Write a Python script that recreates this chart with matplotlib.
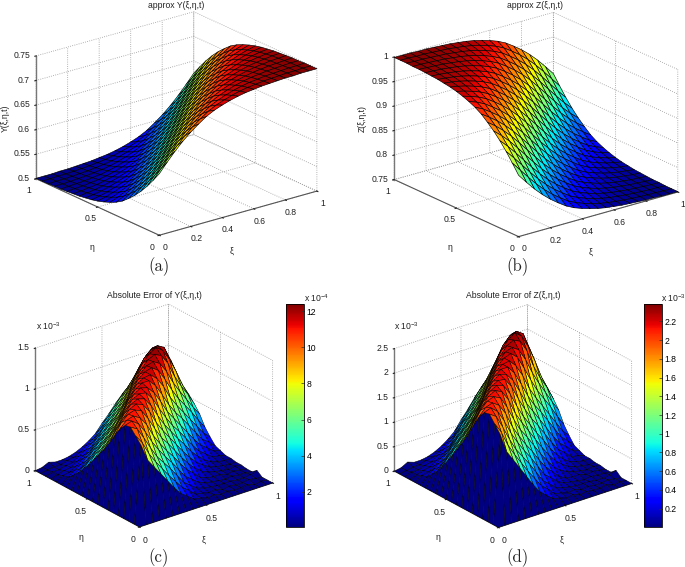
import numpy as np
import matplotlib
matplotlib.use("Agg")
import matplotlib.pyplot as plt
from matplotlib.colors import Normalize
from matplotlib.cm import ScalarMappable

plt.rcParams["font.family"] = ["Liberation Sans", "DejaVu Sans"]
plt.rcParams["font.size"] = 6.2
plt.rcParams["text.color"] = "#222222"
plt.rcParams["mathtext.default"] = "regular"

W, H = 685, 567

xi = np.arange(21) / 20
eta = np.arange(21) / 20

# both approx surfaces only depend on xi-eta, values from -1 to 1
Y_BY_OFFSET = [0.501, 0.501, 0.501, 0.502, 0.502, 0.503, 0.504, 0.505, 0.507, 0.509,
               0.512, 0.516, 0.521, 0.527, 0.535, 0.546, 0.558, 0.572, 0.588, 0.606,
               0.625, 0.644, 0.662, 0.678, 0.692, 0.704, 0.715, 0.723, 0.729, 0.734,
               0.738, 0.741, 0.743, 0.745, 0.746, 0.747, 0.748, 0.748, 0.749, 0.749, 0.749]
Z_BY_OFFSET = [0.999, 0.999, 0.999, 0.998, 0.998, 0.997, 0.996, 0.995, 0.993, 0.991,
               0.988, 0.984, 0.979, 0.973, 0.965, 0.954, 0.942, 0.928, 0.912, 0.894,
               0.875, 0.856, 0.838, 0.822, 0.808, 0.796, 0.785, 0.777, 0.771, 0.766,
               0.762, 0.759, 0.757, 0.755, 0.754, 0.753, 0.752, 0.752, 0.751, 0.751, 0.751]

# error height in percent of the peak, rows are eta, columns are xi
ERR_PERCENT = [
    [0, 0, 0, 0, 0, 0, 0, 0, 0, 0, 0, 0, 0, 0, 0, 0, 0, 0, 0, 0, 0],
    [0, 76, 59, 50, 41, 32, 23, 15, 10, 5, 4, 2, 3, 1, 2, 1, 1, 2, 0, 1, 0],
    [0, 82, 73, 60, 50, 41, 32, 24, 16, 11, 5, 4, 2, 3, 1, 2, 1, 1, 2, 1, 0],
    [0, 88, 84, 73, 61, 50, 42, 34, 25, 16, 11, 6, 4, 3, 2, 2, 2, 1, 1, 2, 4],
    [0, 87, 89, 84, 74, 62, 52, 43, 35, 26, 17, 12, 7, 4, 3, 2, 1, 2, 1, 1, 0],
    [0, 81, 87, 89, 85, 76, 63, 53, 44, 36, 27, 19, 13, 7, 4, 3, 3, 1, 2, 1, 0],
    [0, 72, 82, 88, 90, 87, 77, 65, 54, 46, 37, 28, 20, 13, 8, 5, 3, 2, 1, 2, 1],
    [0, 62, 72, 81, 88, 91, 88, 79, 66, 56, 47, 38, 29, 21, 14, 9, 5, 3, 2, 1, 1],
    [0, 53, 61, 71, 81, 88, 91, 89, 80, 68, 57, 48, 39, 31, 22, 15, 9, 5, 3, 2, 2],
    [0, 45, 52, 61, 71, 80, 88, 91, 90, 82, 70, 59, 49, 41, 32, 23, 15, 10, 5, 4, 2],
    [0, 37, 44, 52, 60, 70, 80, 88, 92, 90, 83, 72, 60, 51, 42, 33, 24, 16, 11, 6, 4],
    [0, 29, 37, 44, 51, 59, 69, 80, 88, 92, 92, 85, 74, 62, 52, 44, 35, 26, 17, 12, 6],
    [0, 22, 29, 36, 43, 51, 59, 68, 79, 88, 92, 93, 87, 77, 64, 54, 45, 36, 27, 18, 12],
    [0, 15, 21, 28, 35, 43, 50, 58, 68, 79, 88, 93, 95, 90, 79, 67, 56, 47, 38, 28, 19],
    [0, 10, 14, 20, 28, 35, 42, 50, 58, 67, 79, 88, 94, 96, 92, 82, 69, 58, 48, 38, 29],
    [0, 5, 10, 14, 20, 27, 34, 42, 49, 57, 67, 79, 88, 95, 98, 95, 85, 70, 58, 48, 36],
    [0, 4, 5, 9, 14, 19, 26, 34, 41, 49, 57, 67, 79, 89, 96, 100, 95, 84, 70, 54, 42],
    [0, 2, 4, 5, 9, 13, 18, 26, 34, 41, 49, 57, 67, 78, 89, 95, 97, 93, 78, 61, 41],
    [0, 2, 2, 4, 5, 9, 13, 18, 25, 33, 41, 49, 57, 67, 77, 86, 92, 88, 80, 59, 38],
    [0, 1, 2, 2, 4, 5, 8, 13, 17, 25, 33, 41, 49, 56, 64, 73, 77, 78, 65, 49, 23],
    [0, 1, 4, 2, 2, 3, 5, 8, 12, 17, 25, 32, 40, 47, 53, 57, 61, 56, 47, 25, 0],
]
ERR_Y_PEAK = 1.24e-3
ERR_Z_PEAK = 2.38e-3

xi_ticks = [0, .2, .4, .6, .8, 1]
xi_labels = ["0", "0.2", "0.4", "0.6", "0.8", "1"]
half_ticks = [0, .5, 1]
half_labels = ["0", "0.5", "1"]

XI, ETA = np.meshgrid(xi, eta)


def add_panel(cx, cy, side, zratio, elev, zdata, zlim, zticks, zlabels, xticks, xlabels,
              vmin, vmax, lw):
    # cx, cy, side are the pixel centre and the floor edge length of the box
    norm = np.sqrt(2 + zratio ** 2)
    k = 1.8294640721620434 * 25 / 24 / norm
    w = side / (k * 0.5405)
    left = cx - 0.5135 * w
    bottom = H - (cy + 0.5135 * w)
    ax = fig.add_axes([left / W, bottom / H, w / W, w / H], projection="3d", proj_type="ortho")
    ax.set_box_aspect((1, 1, zratio))
    ax.view_init(elev=elev, azim=-128)
    ax.patch.set_alpha(0)
    colors = plt.cm.jet(Normalize(vmin, vmax)(zdata))
    ax.plot_surface(XI, ETA, zdata, facecolors=colors[:-1, :-1], rstride=1, cstride=1,
                    edgecolor="k", linewidth=lw, shade=False)
    ax.set_xlim(0, 1)
    ax.set_ylim(0, 1)
    ax.set_zlim(*zlim)
    ax.set_xticks(xticks, xlabels)
    ax.set_yticks(half_ticks, half_labels)
    ax.set_zticks(zticks, zlabels)
    ax.zaxis.set_ticks_position("upper")
    ax.tick_params(axis="both", pad=-3, labelsize=6.2, colors="#222222")
    ax.tick_params(axis="z", pad=-5.5)
    for t in ax.get_zticklabels():
        t.set_ha("right")
        t.set_va("center")
    for axis in (ax.xaxis, ax.yaxis, ax.zaxis):
        axis.set_pane_color((1, 1, 1, 0))
        axis.pane.set_edgecolor("none")
        axis.line.set_color("#555555")
        axis.line.set_linewidth(0.8)
        axis._axinfo["grid"].update(color="#999999", linestyle=":", linewidth=0.6)
        axis._axinfo["tick"].update(inward_factor=0.1, outward_factor=0.0)
    ax.zaxis.line.set_color("#777777")
    ax.zaxis.line.set_linewidth(1.0)
    return ax


fig = plt.figure(figsize=(W / 100, H / 100), dpi=100)

y_surface = np.array([[Y_BY_OFFSET[i - j + 20] for i in range(21)] for j in range(21)])
z_surface = np.array([[Z_BY_OFFSET[i - j + 20] for i in range(21)] for j in range(21)])
err_y = np.array(ERR_PERCENT) / 100 * ERR_Y_PEAK
err_z = np.array(ERR_PERCENT) / 100 * ERR_Z_PEAK

add_panel(176.5, 123.5, 200, .658, 21, y_surface, (.5, .75), [.5, .55, .6, .65, .7, .75],
          ["0.5", "0.55", "0.6", "0.65", "0.7", "0.75"], xi_ticks, xi_labels, .5, .75, 0.45)
add_panel(536, 124.5, 202, .65, 21, z_surface, (.75, 1), [.75, .8, .85, .9, .95, 1],
          ["0.75", "0.8", "0.85", "0.9", "0.95", "1"], xi_ticks, xi_labels, .75, 1, 0.45)
add_panel(154, 415.5, 169, .80, 25, err_y, (0, 1.5e-3), [0, .5e-3, 1e-3, 1.5e-3],
          ["0", "0.5", "1", "1.5"], half_ticks, half_labels, .05e-4, 12.4e-4, 0.35)
add_panel(513, 416, 169, .80, 25, err_z, (0, 2.5e-3), [0, .5e-3, 1e-3, 1.5e-3, 2e-3, 2.5e-3],
          ["0", "0.5", "1", "1.5", "2", "2.5"], half_ticks, half_labels, .004e-3, 2.386e-3, 0.35)

for x, y, s in [(176, 5, "approx Y(ξ,η,t)"), (535, 5, "approx Z(ξ,η,t)"),
                (154, 295, "Absolute Error of Y(ξ,η,t)"), (513, 295, "Absolute Error of Z(ξ,η,t)"),
                (232, 251, "ξ"), (92, 247, "η"), (591, 252, "ξ"), (450, 247, "η"),
                (204, 540, "ξ"), (81, 537, "η"), (562, 540, "ξ"), (438, 537, "η")]:
    fig.text(x / W, 1 - y / H, s, ha="center", va="center")
fig.text(5 / W, 1 - 118 / H, "Y(ξ,η,t)", rotation=90, ha="center", va="center")
fig.text(362 / W, 1 - 118 / H, "Z(ξ,η,t)", rotation=90, ha="center", va="center")
for x, y, s in [(159, 267, "(a)"), (517, 267, "(b)"), (159, 558, "(c)"), (517, 558, "(d)")]:
    fig.text(x / W, 1 - y / H, s, ha="center", va="center", family="cmr10", fontsize=12)
for x, y, s in [(36, 326, r"x 10$^{-3}$"), (394, 326, r"x 10$^{-3}$"),
                (304, 298, r"x 10$^{-4}$"), (661, 298, r"x 10$^{-3}$")]:
    fig.text(x / W, 1 - y / H, s, ha="left", va="center")

for left, vmin, vmax, ticks, labels in [
    (286, .05, 12.4, [2, 4, 6, 8, 10, 12], ["2", "4", "6", "8", "10", "12"]),
    (644, .004, 2.386, [.2, .4, .6, .8, 1, 1.2, 1.4, 1.6, 1.8, 2, 2.2],
     ["0.2", "0.4", "0.6", "0.8", "1", "1.2", "1.4", "1.6", "1.8", "2", "2.2"]),
]:
    cax = fig.add_axes([left / W, 1 - 527 / H, 18 / W, 223 / H])
    cb = fig.colorbar(ScalarMappable(Normalize(vmin, vmax), "jet"), cax=cax)
    cb.set_ticks(ticks, labels=labels)
    cb.ax.tick_params(direction="in", length=2, width=0.5, pad=2, labelsize=6.2, color="#333333")
    cb.outline.set_linewidth(0.6)

fig.savefig("out.png", dpi=100)
